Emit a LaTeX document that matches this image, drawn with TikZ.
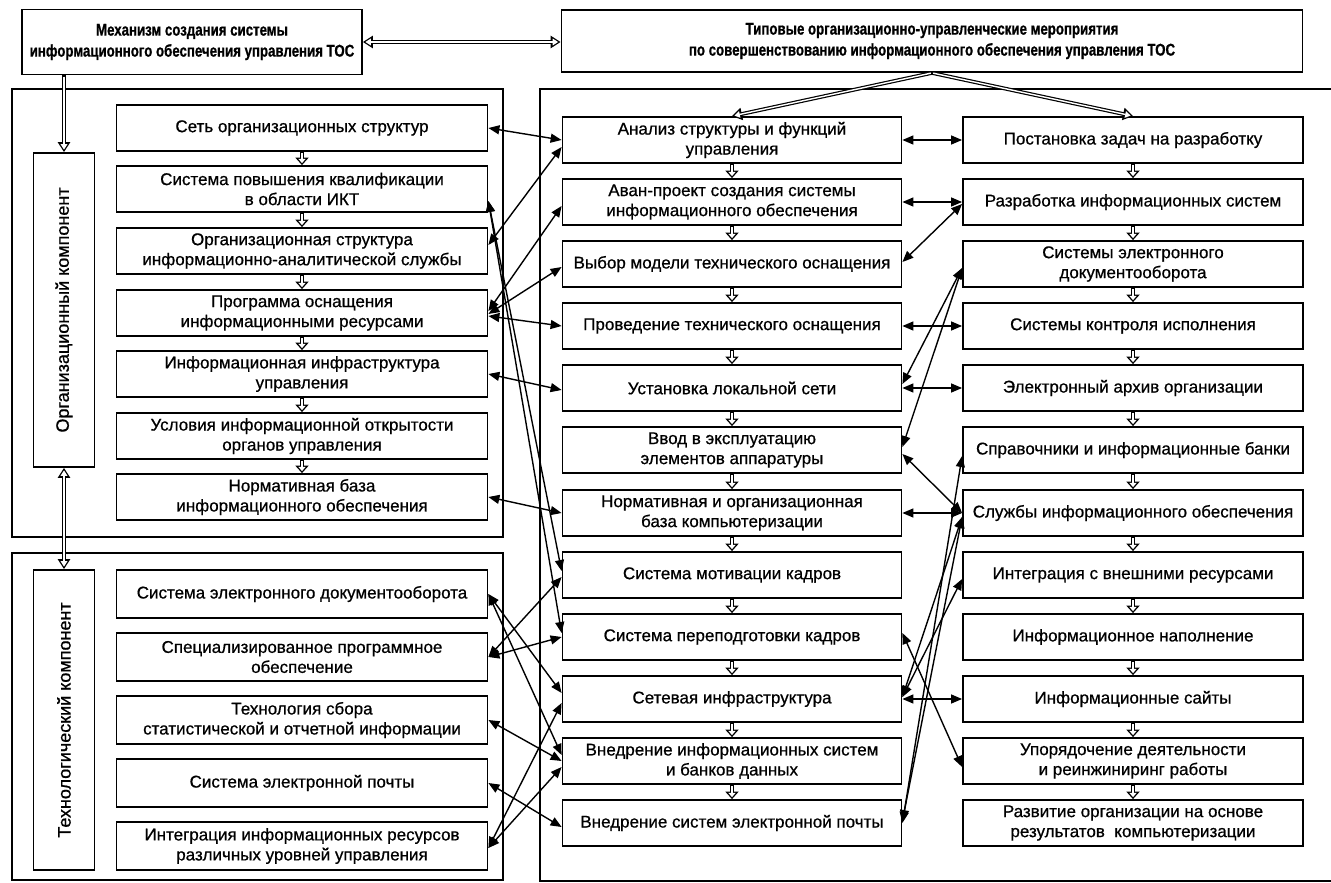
\documentclass[tikz,border=0pt]{standalone}
\usepackage{fontspec}
\setmainfont{Liberation Sans}
\newfontfamily\boxfont{Liberation Sans}[FakeBold=0.7]
\newfontfamily\ttlfont{Liberation Sans Bold}[FakeStretch=0.78,FakeBold=0.8]
\usetikzlibrary{arrows.meta}

\begin{document}
\begin{tikzpicture}[x=1pt,y=-1pt,font=\boxfont\fontsize{17}{20}\selectfont,
  blk/.style={draw,line width=1.8pt,fill=white,align=center,inner sep=2pt,minimum height=46pt},
  lb/.style={blk,minimum width=371pt},
  tb/.style={blk,minimum width=371pt,minimum height=48pt},
  cb/.style={blk,minimum width=339pt},
  rb/.style={blk,minimum width=340pt},
  ttl/.style={blk,font=\ttlfont\fontsize{17}{21}\selectfont},
  vbox/.style={draw,line width=1.8pt,fill=white,minimum width=61pt,inner sep=0pt,font=\boxfont\fontsize{18}{20}\selectfont},
  frm/.style={line width=1.8pt},
  con/.style={line width=1.4pt,{Triangle[length=11pt,width=9pt]}-{Triangle[length=11pt,width=9pt]}},
  hol/.style={line width=3.8pt,-{Triangle[length=10pt,width=12pt]},
    postaction={draw=white,line width=1.4pt,-{Triangle[length=5.5pt,width=6.5pt]},shorten >=2.4pt,shorten <=1.2pt}},
  holboth/.style={line width=3.8pt,{Triangle[length=10pt,width=12pt]}-{Triangle[length=10pt,width=12pt]},
    postaction={draw=white,line width=1.4pt,{Triangle[length=5.5pt,width=6.5pt]}-{Triangle[length=5.5pt,width=6.5pt]},shorten >=2.4pt,shorten <=2.4pt}},
  hols/.style={line width=3.4pt,-{Triangle[length=7.5pt,width=13pt]},
    postaction={draw=white,line width=1.2pt,-{Triangle[length=4.2pt,width=7pt]},shorten >=2pt,shorten <=1.2pt}}]

  \fill[white] (0,0) rectangle (1331,883);
  \useasboundingbox (0,0) rectangle (1331,883);

  % frames
  \draw[frm] (12,89) rectangle (503,537);
  \draw[frm] (12,553) rectangle (503,880);
  \draw[frm] (1331,881) -- (540,881) -- (540,89) -- (1331,89);

  % top
  \node[ttl,minimum width=340pt,minimum height=65pt] (mech) at (192,42) {Механизм создания системы\\информационного обеспечения управления ТОС};
  \node[ttl,minimum width=741pt,minimum height=62pt] (typ) at (932,41) {Типовые организационно-управленческие мероприятия\\по совершенствованию информационного обеспечения управления ТОС};

  % components
  \node[vbox,minimum height=314pt] (orgk) at (64,310) {\rotatebox{90}{Организационный компонент}};
  \node[vbox,minimum height=300pt] (tehk) at (64,720) {\rotatebox{90}{Технологический компонент}};

  \node[lb] (o1) at (302,128) {Сеть организационных структур};
  \node[lb] (o2) at (302,189) {Система повышения квалификации\\в области ИКТ};
  \node[lb] (o3) at (302,251) {Организационная структура\\информационно-аналитической службы};
  \node[lb] (o4) at (302,313) {Программа оснащения\\информационными ресурсами};
  \node[lb] (o5) at (302,374) {Информационная инфраструктура\\управления};
  \node[lb] (o6) at (302,436) {Условия информационной открытости\\органов управления};
  \node[lb] (o7) at (302,497) {Нормативная база\\информационного обеспечения};

  \node[tb] (t1) at (302,594) {Система электронного документооборота};
  \node[tb] (t2) at (302,657) {Специализированное программное\\обеспечение};
  \node[tb] (t3) at (302,720) {Технология сбора\\статистической и отчетной информации};
  \node[tb] (t4) at (302,783) {Система электронной почты};
  \node[tb] (t5) at (302,846) {Интеграция информационных ресурсов\\различных уровней управления};

  % measures
  \node[cb] (c1) at (732,140) {Анализ структуры и функций\\управления};
  \node[cb] (c2) at (732,202) {Аван-проект создания системы\\информационного обеспечения};
  \node[cb] (c3) at (732,264) {Выбор модели технического оснащения};
  \node[cb] (c4) at (732,326) {Проведение технического оснащения};
  \node[cb] (c5) at (732,388) {Установка локальной сети};
  \node[cb] (c6) at (732,450) {Ввод в эксплуатацию\\элементов аппаратуры};
  \node[cb] (c7) at (732,513) {Нормативная и организационная\\база компьютеризации};
  \node[cb] (c8) at (732,575) {Система мотивации кадров};
  \node[cb] (c9) at (732,637) {Система переподготовки кадров};
  \node[cb] (c10) at (732,699) {Сетевая инфраструктура};
  \node[cb] (c11) at (732,761) {Внедрение информационных систем\\и банков данных};
  \node[cb] (c12) at (732,823) {Внедрение систем электронной почты};

  \node[rb] (r1) at (1133,140) {Постановка задач на разработку};
  \node[rb] (r2) at (1133,202) {Разработка информационных систем};
  \node[rb] (r3) at (1133,264) {Системы электронного\\документооборота};
  \node[rb] (r4) at (1133,326) {Системы контроля исполнения};
  \node[rb] (r5) at (1133,388) {Электронный архив организации};
  \node[rb] (r6) at (1133,450) {Справочники и информационные банки};
  \node[rb] (r7) at (1133,513) {Службы информационного обеспечения};
  \node[rb] (r8) at (1133,575) {Интеграция с внешними ресурсами};
  \node[rb] (r9) at (1133,637) {Информационное наполнение};
  \node[rb] (r10) at (1133,699) {Информационные сайты};
  \node[rb] (r11) at (1133,761) {Упорядочение деятельности\\и реинжиниринг работы};
  \node[rb] (r12) at (1133,823) {Развитие организации на основе\\результатов\ \ компьютеризации};

  % wide arrows
  \draw[holboth] (mech.east) -- (mech.east -| typ.west);
  \draw[hol] (mech.south -| orgk.north) -- (orgk.north);
  \draw[holboth] (orgk.south) -- (tehk.north);
  \draw[hol] (typ.south) -- (c1.north);
  \draw[hol] (typ.south) -- (r1.north);
  \foreach \a/\b in {o1/o2,o2/o3,o3/o4,o4/o5,o5/o6,o6/o7}
    \draw[hols] (\a.south) -- (\b.north);
  \foreach \i [count=\j from 2] in {1,...,11} {
    \draw[hols] (c\i.south) -- (c\j.north);
    \draw[hols] (r\i.south) -- (r\j.north);
  }

  % links left
  \draw[con] (o1.east) -- (c1.west);
  \draw[con] ([yshift=-7pt]c1.west) -- ([yshift=6pt]o3.east);
  \draw[con] ([yshift=-4pt]c2.west) -- ([yshift=2pt]o4.east);
  \draw[con] ([yshift=-1pt]o4.east) -- ([yshift=-3pt]c3.west);
  \draw[con] ([yshift=-3pt]o4.east) -- (c4.west);
  \draw[con] ([yshift=-12pt]o2.east) -- ([yshift=4pt]c8.west);
  \draw[con] ([yshift=-12pt]o2.east) -- ([yshift=4pt]c9.west);
  \draw[con] (o5.east) -- ([yshift=-2pt]c5.west);
  \draw[con] (o7.east) -- (c7.west);
  \draw[con] (t1.east) -- ([yshift=6pt]c10.west);
  \draw[con] (t1.east) -- ([yshift=6pt]c11.west);
  \draw[con] (t2.east) -- ([yshift=-2pt]c8.west);
  \draw[con] (t2.east) -- (c9.west);
  \draw[con] (t3.east) -- (c11.west);
  \draw[con] (t4.east) -- ([yshift=-4pt]c12.west);
  \draw[con] ([yshift=-2pt]t5.east) -- ([yshift=-4pt]c10.west);
  \draw[con] ([yshift=-2pt]t5.east) -- ([yshift=-6pt]c11.west);

  % links right
  \draw[con] (c1.east) -- (r1.west);
  \draw[con] (c2.east) -- (r2.west);
  \draw[con] ([yshift=-2pt]r2.west) -- ([yshift=2pt]c3.east);
  \draw[con] (c4.east) -- (r4.west);
  \draw[con] (c5.east) -- (r5.west);
  \draw[con] ([yshift=-4pt]r3.west) -- ([yshift=4pt]c5.east);
  \draw[con] ([yshift=-4pt]r3.west) -- ([yshift=3pt]c6.east);
  \draw[con] (r7.west) -- ([yshift=-4pt]c6.east);
  \draw[con] (r7.west) -- (c7.east);
  \draw[con] ([yshift=-6pt]r6.west) -- (c12.east);
  \draw[con] ([yshift=-4pt]r7.west) -- ([yshift=2pt]c12.east);
  \draw[con] ([yshift=-4pt]r7.west) -- ([yshift=2pt]c10.east);
  \draw[con] ([yshift=-4pt]r8.west) -- ([yshift=2pt]c10.east);
  \draw[con] (c10.east) -- (r10.west);
  \draw[con] ([yshift=4pt]c9.east) -- ([yshift=-6pt]r11.west);
\end{tikzpicture}
\end{document}
